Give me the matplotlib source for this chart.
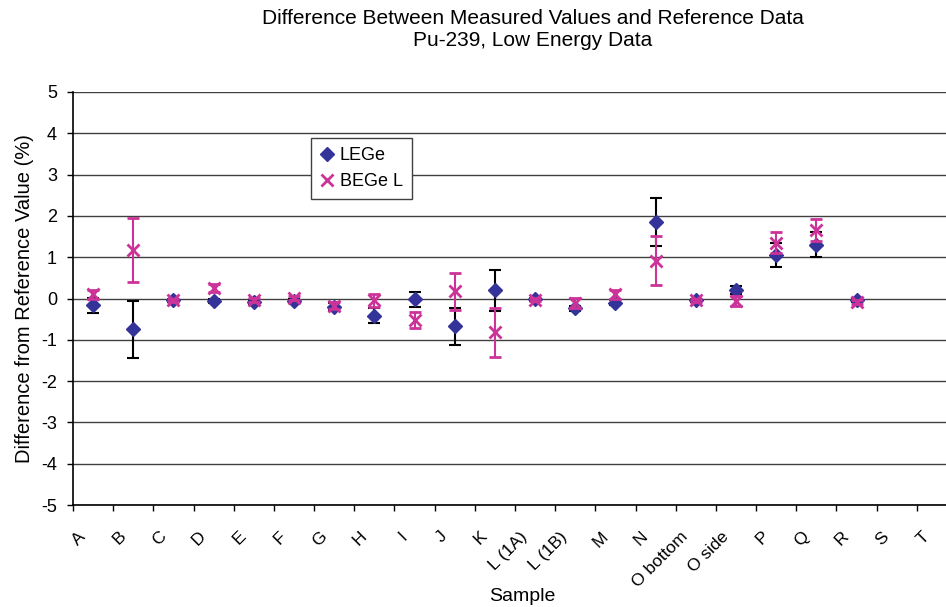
import numpy as np
import matplotlib
matplotlib.use('Agg')
import matplotlib.pyplot as plt
from matplotlib.lines import Line2D

plt.rcParams['font.family'] = ['Liberation Sans', 'DejaVu Sans']
plt.rcParams['axes.unicode_minus'] = False

samples = ['A', 'B', 'C', 'D', 'E', 'F', 'G', 'H', 'I', 'J', 'K', 'L (1A)', 'L (1B)',
           'M', 'N', 'O bottom', 'O side', 'P', 'Q', 'R', 'S', 'T']

nan = np.nan
lege_vals = [-0.16, -0.75, -0.04, -0.06, -0.09, -0.06, -0.20, -0.42, -0.02, -0.67, 0.20,
             -0.02, -0.24, -0.10, 1.86, -0.04, 0.20, 1.05, 1.30, -0.04, nan, nan]
lege_err = [0.18, 0.70, 0.04, 0.05, 0.05, 0.05, 0.08, 0.18, 0.18, 0.45, 0.50,
            0.04, 0.06, 0.06, 0.58, 0.04, 0.10, 0.29, 0.30, 0.05, nan, nan]
bege_vals = [0.10, 1.17, -0.04, 0.26, -0.04, 0.02, -0.17, -0.04, -0.52, 0.17, -0.82,
             -0.03, -0.10, 0.10, 0.92, -0.04, -0.05, 1.35, 1.66, -0.08, nan, nan]
bege_err = [0.11, 0.77, 0.04, 0.10, 0.05, 0.05, 0.08, 0.16, 0.20, 0.44, 0.59,
            0.04, 0.12, 0.10, 0.60, 0.04, 0.12, 0.25, 0.26, 0.05, nan, nan]

navy = '#333399'
magenta = '#CC3399'

fig = plt.figure(figsize=(9.46, 6.07), dpi=100)
# plot area runs past the right edge of the picture, as in the original
ax = fig.add_axes([73 / 946, 102 / 607, 884 / 946, 413 / 607])

x = np.arange(len(samples)) + 0.5

ax.errorbar(x, lege_vals, yerr=lege_err, fmt='D', color=navy, ms=7.5,
            ecolor='black', elinewidth=1.5, capsize=4, capthick=1.5, zorder=3)
ax.errorbar(x, bege_vals, yerr=bege_err, fmt='x', color=magenta, ms=9, mew=2,
            ecolor=magenta, elinewidth=1.5, capsize=4, capthick=1.5, zorder=4)

ax.set_xlim(0, len(samples))
ax.set_ylim(-5, 5)
ax.set_yticks(np.arange(-5, 6))
ax.yaxis.grid(True, color='#404040', lw=1.0)
ax.set_axisbelow(True)

ax.set_xticks(x - 0.25)
ax.set_xticklabels(samples, rotation=45, ha='right', va='center', rotation_mode='anchor')
ax.set_xticks(np.arange(len(samples) + 1), minor=True)
ax.tick_params(axis='x', which='major', length=0, pad=21, labelsize=12.5)
ax.tick_params(axis='x', which='minor', direction='out', length=4, width=1)
ax.tick_params(axis='y', direction='out', length=4.5, width=1, pad=7, labelsize=13)

for s in ['top', 'right']:
    ax.spines[s].set_visible(False)
for s in ['left', 'bottom']:
    ax.spines[s].set_linewidth(1.2)

ax.set_xlabel('Sample', fontsize=14)
ax.xaxis.set_label_coords(0.508, -0.2)
ax.set_ylabel('Difference from Reference Value (%)', fontsize=14.5, va='center')
ax.yaxis.set_label_coords(-0.055, 0.5)

fig.text(533 / 946, 1 - 29 / 607,
         'Difference Between Measured Values and Reference Data\nPu-239, Low Energy Data',
         ha='center', va='center', fontsize=15, linespacing=1.2)

handles = [Line2D([], [], marker='D', color=navy, ls='none', ms=7.5),
           Line2D([], [], marker='x', color=magenta, ls='none', ms=8, mew=2)]
leg = ax.legend(handles, ['LEGe', 'BEGe L'], loc='upper left', bbox_to_anchor=(0.269, 0.889),
                borderaxespad=0, fontsize=13, fancybox=False, framealpha=1,
                edgecolor='#404040', handlelength=0.8, handletextpad=0.3, borderpad=0.5)
leg.get_frame().set_linewidth(1)

plt.savefig('out.png', dpi=100)
plt.close()
